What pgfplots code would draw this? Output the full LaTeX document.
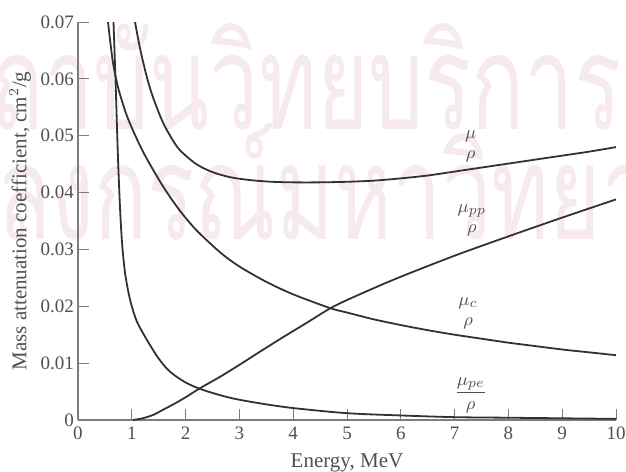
\documentclass[border=0pt]{standalone}
\usepackage{pgfplots}
\pgfplotsset{compat=1.18}
\usepackage{amsmath}
\usepackage{fontspec}
\setmainfont{Liberation Serif}
\newfontfamily\thaifont[Script=Thai]{Loma}
\definecolor{wm}{RGB}{246,233,240}
\definecolor{crv}{RGB}{50,50,50}
\definecolor{axc}{RGB}{125,125,125}
\definecolor{txt}{RGB}{80,80,80}

\pgfplotstableread{
E v
1.06 0.0700
1.15 0.0655
1.28 0.0603
1.40 0.0566
1.58 0.0523
1.75 0.0494
1.90 0.0474
2.20 0.0450
2.50 0.0436
2.83 0.0427
3.20 0.0422
3.60 0.0419
4.00 0.0418
4.50 0.0418
5.00 0.0419
5.50 0.0421
6.00 0.0425
6.50 0.0430
7.00 0.0437
7.50 0.0444
8.00 0.0451
8.50 0.0458
9.00 0.0465
9.50 0.0472
10.0 0.0480
}\total

\pgfplotstableread{
E v
0.558 0.0700
0.600 0.0665
0.651 0.0628
0.720 0.0595
0.780 0.0573
0.929 0.0530
1.208 0.0472
1.580 0.0411
1.896 0.0368
2.200 0.0334
2.640 0.0295
3.00 0.0270
3.50 0.0243
4.00 0.0221
4.68 0.0197
5.00 0.0189
5.50 0.0177
6.00 0.0167
6.50 0.0158
7.00 0.0150
7.50 0.0143
8.00 0.0136
8.50 0.0130
9.00 0.0124
9.50 0.0119
10.0 0.0114
}\compton

\pgfplotstableread{
E v
0.660 0.0700
0.700 0.0590
0.740 0.0470
0.780 0.0375
0.820 0.0310
0.870 0.0262
0.930 0.0228
1.000 0.0200
1.100 0.0172
1.280 0.0141
1.500 0.0108
1.710 0.0085
2.000 0.0066
2.320 0.0053
2.830 0.0039
3.400 0.0029
4.000 0.0021
5.000 0.0012
6.000 0.0008
7.000 0.0005
8.000 0.0004
9.000 0.0003
10.00 0.0002
}\photo

\pgfplotstableread{
E v
1.02 0.0000
1.20 0.0003
1.40 0.0009
1.58 0.0018
1.80 0.0029
2.00 0.0040
2.27 0.0056
2.64 0.0076
3.00 0.0097
3.38 0.0120
3.80 0.0145
4.20 0.0168
4.68 0.0196
5.00 0.0211
5.50 0.0232
6.00 0.0252
7.00 0.0289
8.00 0.0323
9.00 0.0356
10.0 0.0388
}\pair

\begin{document}
\begin{tikzpicture}
\useasboundingbox (-39pt,-25.5pt) rectangle (274pt,210pt);
% watermark
\node[anchor=base east, text=wm, font=\thaifont\fontsize{44}{48}\selectfont, inner sep=0pt, yscale=1.5] at (272pt,145pt) {สถาบันวิทยบริการ};
\node[anchor=base west, text=wm, font=\thaifont\fontsize{44}{48}\selectfont, inner sep=0pt, yscale=1.5] at (-121pt,90pt) {จุฬาลงกรณ์มหาวิทยาลัย};
\begin{axis}[
  at={(0pt,0pt)}, anchor=south west,
  scale only axis, width=269pt, height=199pt,
  xmin=0, xmax=10, ymin=0, ymax=0.07,
  axis lines=left,
  axis line style={-, draw=axc, line width=0.6pt},
  xtick={0,1,2,3,4,5,6,7,8,9,10},
  xticklabels={0,1,2,3,4,5,6,7,8,9,10},
  ytick={0,0.01,0.02,0.03,0.04,0.05,0.06,0.07},
  yticklabels={0,0.01,0.02,0.03,0.04,0.05,0.06,0.07},
  scaled y ticks=false,
  /pgf/number format/assume math mode=true,
  tick align=inside,
  major tick length=5.5pt,
  tick style={draw=axc, line width=0.5pt},
  ticklabel style={font=\fontsize{9.5}{11}\selectfont, text=txt},
  yticklabel style={xshift=1.5pt},
  xlabel={Energy, MeV},
  ylabel={Mass attenuation coefficient, cm$^2$/g},
  label style={font=\fontsize{10.5}{12}\selectfont, text=txt},
  ylabel style={yshift=-2pt},
  clip=true,
]
\addplot[crv, line width=0.9pt, smooth] table[x=E, y=v] {\total};
\addplot[crv, line width=0.9pt, smooth] table[x=E, y=v] {\compton};
\addplot[crv, line width=0.9pt, smooth] table[x=E, y=v] {\photo};
\addplot[crv, line width=0.9pt, smooth] table[x=E, y=v] {\pair};
\node[text=txt, font=\fontsize{9.5}{10}\selectfont, align=center, inner sep=0pt] at (axis cs:7.3,0.0481) {$\mu$\\$\rho$};
\node[text=txt, font=\fontsize{9.5}{10}\selectfont, align=center, inner sep=0pt] at (axis cs:7.32,0.0351) {$\mu_{pp}$\\$\rho$};
\node[text=txt, font=\fontsize{9.5}{10}\selectfont, align=center, inner sep=0pt] at (axis cs:7.25,0.0187) {$\mu_{c}$\\$\rho$};
\node[text=txt, font=\fontsize{9.5}{10}\selectfont, inner sep=0pt] at (axis cs:7.3,0.0044) {$\dfrac{\mu_{pe}}{\rho}$};
\end{axis}
\end{tikzpicture}
\end{document}
